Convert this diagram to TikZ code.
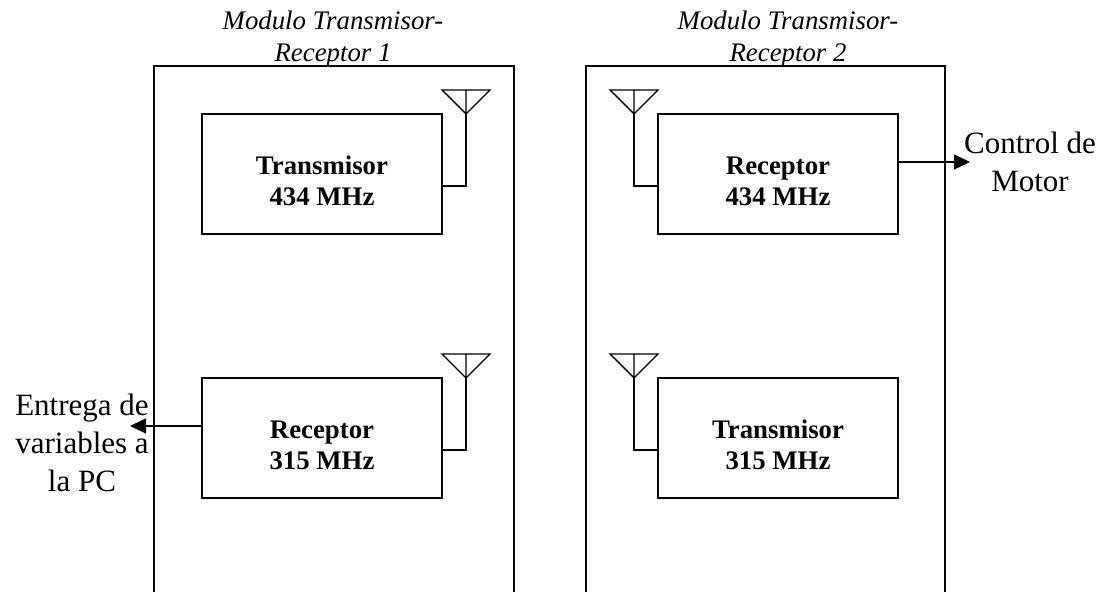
\documentclass[tikz,border=0pt]{standalone}
\usepackage{fontspec}
\setmainfont{Liberation Serif}
\usetikzlibrary{arrows.meta}
\tikzset{
  framepath/.style={draw=black,line width=.8pt},
  blockbox/.style={draw=black,line width=.7pt,minimum width=120pt,minimum height=60pt,inner sep=0pt},
  blocktext/.style={inner sep=0pt,align=center,yshift=-3.5pt,font=\bfseries\fontsize{13.4}{15.5}\selectfont},
  titletext/.style={inner sep=0pt,align=center,font=\itshape\fontsize{13.4}{16}\selectfont},
  sidetext/.style={inner sep=0pt,align=center,font=\fontsize{15.5}{19}\selectfont},
  wire/.style={draw=black,line width=.7pt},
  outarrow/.style={wire,-{Triangle[length=8pt,width=7.5pt]}},
  antenna/.pic={\draw[wire,line join=miter] (-24,-24) -- (24,-24) -- (0,0) -- cycle (0,-24) -- (0,0);}
}
\begin{document}
\begin{tikzpicture}[x=.5pt,y=-.5pt]
\path[use as bounding box] (0,0) rectangle (1104,592);
% module frames
\draw[framepath] (154,592) -- (154,66) -- (514,66) -- (514,592);
\draw[framepath] (586,592) -- (586,66) -- (945,66) -- (945,592);
\node[titletext] (title1) at (333,39) {Modulo Transmisor-\\Receptor 1};
\node[titletext] (title2) at (788,39) {Modulo Transmisor-\\Receptor 2};
% blocks
\node[blockbox] (tx434) at (322,174) {};
\node[blockbox] (rx315) at (322,438) {};
\node[blockbox] (rx434) at (778,174) {};
\node[blockbox] (tx315) at (778,438) {};
\node[blocktext] (tx434text) at (tx434) {Transmisor\\434 MHz};
\node[blocktext] (rx315text) at (rx315) {Receptor\\315 MHz};
\node[blocktext] (rx434text) at (rx434) {Receptor\\434 MHz};
\node[blocktext] (tx315text) at (tx315) {Transmisor\\315 MHz};
% antennas
\coordinate (ant1) at (466,114);
\coordinate (ant2) at (466,378);
\coordinate (ant3) at (634,114);
\coordinate (ant4) at (634,378);
\foreach \a in {ant1,ant2,ant3,ant4} \pic at (\a) {antenna};
\draw[wire] (ant1) |- ([yshift=-6pt]tx434.east);
\draw[wire] (ant2) |- ([yshift=-6pt]rx315.east);
\draw[wire] (ant3) |- ([yshift=-6pt]rx434.west);
\draw[wire] (ant4) |- ([yshift=-6pt]tx315.west);
% outputs
\node[sidetext] (pcout) at (82,443) {Entrega de\\variables a\\la PC};
\node[sidetext] (motor) at (1030,162) {Control de\\Motor};
\coordinate (pctip) at (130,426);
\coordinate (motortip) at (970,162);
\draw[outarrow] (rx315.west |- pctip) -- (pctip);
\draw[outarrow] (rx434.east |- motortip) -- (motortip);
\end{tikzpicture}
\end{document}
